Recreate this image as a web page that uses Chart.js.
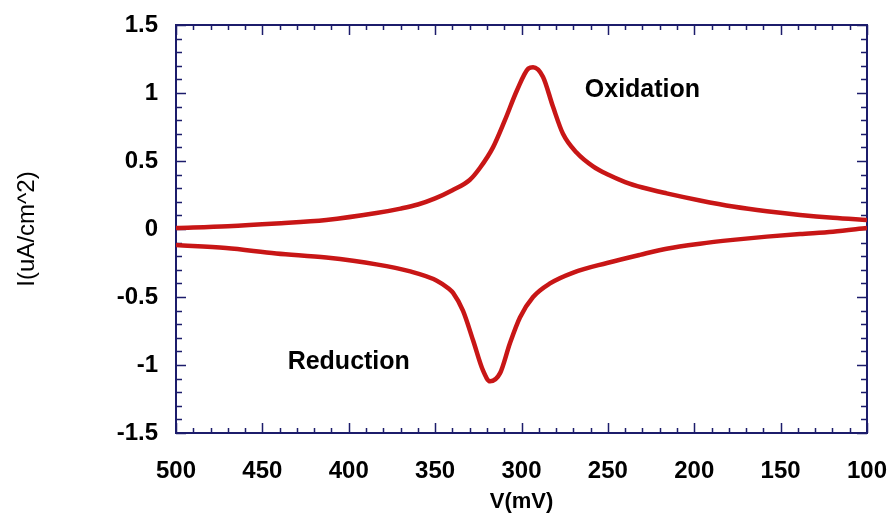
<!DOCTYPE html>
<html>
<head>
<meta charset="utf-8">
<script src="https://cdn.jsdelivr.net/npm/chart.js@4/dist/chart.umd.min.js"></script>
<style>
  html, body { margin: 0; padding: 0; background: #fff; }
  #wrap { width: 891px; height: 517px; }
</style>
</head>
<body>
<div id="wrap"><canvas id="cv"></canvas></div>
<script>
// Oxidation sweep (upper branch), potential in mV and current density in uA/cm^2
var oxPotential = [500, 470, 442, 413, 384, 370, 360, 350, 340, 330, 324, 316.5, 309.6, 302.6, 296, 293.3, 287.6, 281.8, 276, 268, 258.6, 250, 240, 230, 216, 196.7, 177.6, 158, 138.8, 119.7, 100];
var oxCurrent = [0.007, 0.02, 0.04, 0.066, 0.117, 0.15, 0.18, 0.225, 0.285, 0.36, 0.45, 0.60, 0.80, 1.02, 1.18, 1.19, 1.12, 0.90, 0.70, 0.56, 0.46, 0.40, 0.345, 0.305, 0.262, 0.21, 0.165, 0.13, 0.103, 0.082, 0.066];

// Reduction sweep (lower branch)
var redPotential = [500, 471, 442, 413, 384, 365, 349, 342, 339.6, 333.9, 328, 322.3, 318.2, 312.4, 306.7, 300.9, 293.3, 283.5, 270, 250.5, 231.4, 216, 196.7, 177.6, 158, 138.8, 119.7, 100];
var redCurrent = [-0.118, -0.14, -0.18, -0.21, -0.26, -0.31, -0.38, -0.44, -0.47, -0.60, -0.82, -1.04, -1.12, -1.06, -0.84, -0.65, -0.50, -0.40, -0.32, -0.25, -0.19, -0.145, -0.108, -0.08, -0.056, -0.037, -0.02, 0.007];

// axis tick labels
var xMajor = [500, 450, 400, 350, 300, 250, 200, 150, 100];
var yMajor = [1.5, 1, 0.5, 0, -0.5, -1, -1.5];

// text labels placed in data coordinates [mV, uA/cm^2]
var notes = [
  { text: 'Oxidation', at: [230, 1.02] },
  { text: 'Reduction', at: [400, -0.98] }
];

var AXIS = '#1c1c6b';
var RED = '#c81616';
var FONT = "'Liberation Sans', Arial, sans-serif";

function toPoints(xs, ys) {
  return xs.map(function (x, i) { return { x: x, y: ys[i] }; });
}

// frame with inward ticks on all four sides
var framePlugin = {
  id: 'frame',
  beforeDatasetsDraw: function (chart) {
    var ctx = chart.ctx;
    var a = chart.chartArea;
    var xs = chart.scales.x, ys = chart.scales.y;
    ctx.save();
    ctx.strokeStyle = AXIS;
    ctx.lineWidth = 1.5;
    ctx.beginPath();
    for (var v = 100; v <= 500; v += 10) {
      var px = Math.round(xs.getPixelForValue(v)) + 0.5;
      var len = (v % 50 === 0) ? 10 : 5;
      ctx.moveTo(px, a.bottom); ctx.lineTo(px, a.bottom - len);
      ctx.moveTo(px, a.top); ctx.lineTo(px, a.top + len);
    }
    for (var k = -15; k <= 15; k++) {
      var py = Math.round(ys.getPixelForValue(k / 10)) + 0.5;
      var l2 = (k % 5 === 0) ? 10 : 6;
      ctx.moveTo(a.left, py); ctx.lineTo(a.left + l2, py);
      ctx.moveTo(a.right, py); ctx.lineTo(a.right - l2, py);
    }
    ctx.stroke();
    ctx.lineWidth = 2;
    ctx.strokeRect(a.left, a.top, a.right - a.left, a.bottom - a.top);
    ctx.restore();
  },
  afterDatasetsDraw: function (chart) {
    var ctx = chart.ctx;
    ctx.save();
    ctx.fillStyle = '#000';
    ctx.font = 'bold 25px ' + FONT;
    ctx.textAlign = 'center';
    ctx.textBaseline = 'middle';
    notes.forEach(function (n) {
      ctx.fillText(n.text, chart.scales.x.getPixelForValue(n.at[0]), chart.scales.y.getPixelForValue(n.at[1]));
    });
    ctx.restore();
  }
};

new Chart(document.getElementById('cv'), {
  type: 'scatter',
  data: {
    datasets: [{
      label: 'Oxidation',
      data: toPoints(oxPotential, oxCurrent),
      showLine: true,
      borderColor: RED,
      borderWidth: 4.5,
      pointRadius: 0,
      cubicInterpolationMode: 'monotone'
    }, {
      label: 'Reduction',
      data: toPoints(redPotential, redCurrent),
      showLine: true,
      borderColor: RED,
      borderWidth: 4.5,
      pointRadius: 0,
      cubicInterpolationMode: 'monotone'
    }]
  },
  options: {
    responsive: true,
    maintainAspectRatio: false,
    animation: false,
    layout: { padding: { top: 25, right: 24, left: 0, bottom: 0 } },
    plugins: {
      legend: { display: false },
      tooltip: { enabled: false }
    },
    scales: {
      x: {
        type: 'linear',
        reverse: true,
        min: 100,
        max: 500,
        afterBuildTicks: function (s) { s.ticks = xMajor.map(function (v) { return { value: v }; }); },
        afterFit: function (s) { s.height = 84; s.paddingLeft = 0; s.paddingRight = 0; },
        grid: { display: false, drawTicks: false },
        border: { display: false },
        ticks: { color: '#000', padding: 24, maxRotation: 0, callback: function (v) { return String(v); }, font: { family: FONT, size: 24, weight: 'bold' } },
        title: { display: true, text: 'V(mV)', color: '#000', padding: { top: 0, bottom: 2 }, font: { family: FONT, size: 22, weight: 'bold' } }
      },
      y: {
        type: 'linear',
        min: -1.5,
        max: 1.5,
        afterBuildTicks: function (s) { s.ticks = yMajor.map(function (v) { return { value: v }; }); },
        afterFit: function (s) { s.width = 176; s.paddingTop = 0; s.paddingBottom = 0; },
        grid: { display: false, drawTicks: false },
        border: { display: false },
        ticks: { color: '#000', padding: 18, callback: function (v) { return String(v); }, font: { family: FONT, size: 24, weight: 'bold' } },
        title: { display: true, text: 'I(uA/cm^2)', color: '#000', padding: { top: 13, bottom: 0 }, font: { family: FONT, size: 24, weight: 'normal' } }
      }
    }
  },
  plugins: [framePlugin]
});
</script>
</body>
</html>
